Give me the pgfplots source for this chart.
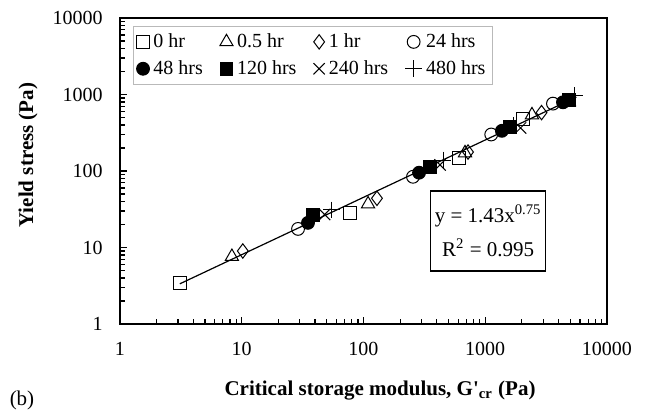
\documentclass[border=0pt]{standalone}
\usepackage{pgfplots}
\pgfplotsset{compat=1.18}
\usepackage{fontspec}
\setmainfont{Liberation Serif}

\begin{document}
\begin{tikzpicture}
\begin{axis}[
    at={(0,0)}, anchor=south west,
    scale only axis,
    width=243.5pt, height=153pt,
    xmode=log, ymode=log,
    xmin=1, xmax=10000, ymin=1, ymax=10000,
    xtick={1,10,100,1000,10000},
    xticklabels={1,10,100,1000,10000},
    ytick={1,10,100,1000,10000},
    yticklabels={1,10,100,1000,10000},
    xtick pos=bottom, ytick pos=left,
    tick align=inside,
    major tick length=3.5pt, minor tick length=2.5pt,
    tick style={black, line width=0.6pt},
    axis line style={line width=0.7pt},
    /pgf/number format/assume math mode=true,
    tick label style={font=\fontsize{10}{12}\selectfont, inner sep=0pt},
    xticklabel shift=9pt,
    yticklabel shift=8.5pt,
    every axis x label/.style={at={(axis description cs:0.534,-0.218)}, anchor=center},
    every axis y label/.style={at={(axis description cs:-0.189,0.552)}, anchor=center, rotate=90},
    label style={font=\fontsize{10.5}{12}\selectfont\bfseries},
    xlabel={Critical storage modulus, G\textquotesingle\textsubscript{cr} (Pa)},
    ylabel={Yield stress (Pa)},
    legend columns=4,
    legend cell align=left,
    legend style={at={(rel axis cs:0.027,0.974)}, anchor=north west,
        draw=gray!55, line width=0.5pt, font=\fontsize{10}{12}\selectfont,
        inner sep=1.5pt, row sep=1pt,
        /tikz/every even column/.append style={column sep=6.5pt}},
    every axis plot/.append style={black, line width=0.5pt},
]
\addplot[line width=0.6pt, mark=none, forget plot] coordinates {(3.1,3.35) (5600,925)};

\addplot[only marks, mark=square, mark size=3.2pt] coordinates {(3.1,3.45) (77,28) (609,148) (2030,480)};
\addlegendentry{0 hr}
\addplot[only marks, mark=triangle, mark size=3.8pt] coordinates {(8.3,7.6) (109,37) (682,172) (2420,540)};
\addlegendentry{0.5 hr}
\addplot[only marks, mark=diamond, mark size=3.6pt] coordinates {(10.2,9.0) (129,44) (722,177) (2900,580)};
\addlegendentry{1 hr}
\addplot[only marks, mark=o, mark size=3.2pt] coordinates {(29,17.5) (255,84) (1120,300) (3600,760)};
\addlegendentry{24 hrs}
\addplot[only marks, mark=*, mark size=3.2pt, fill=black] coordinates {(35,21) (286,95) (1370,335) (4350,790)};
\addlegendentry{48 hrs}
\addplot[only marks, mark=square*, mark size=3.2pt, fill=black] coordinates {(38.5,26.5) (352,113) (1600,375) (4900,850)};
\addlegendentry{120 hrs}
\addplot[only marks, mark=x, mark size=4pt] coordinates {(48,27) (425,120) (1950,365) (5000,830)};
\addlegendentry{240 hrs}
\addplot[only marks, mark=+, mark size=4.2pt] coordinates {(55,31) (450,139) (1700,395) (5400,960)};
\addlegendentry{480 hrs}

\node[draw=black, line width=0.6pt, align=center, minimum width=56pt, minimum height=40pt,
      inner sep=2pt, font=\fontsize{10.5}{17}\selectfont]
      at (rel axis cs:0.756,0.304) {y = 1.43x\textsuperscript{0.75}\\R\textsuperscript{2} = 0.995};
\end{axis}
\node[font=\fontsize{10.5}{12}\selectfont] at (-49pt,-38pt) {(b)};
\pgfresetboundingbox
\path (-60pt,-46pt) rectangle (266pt,162pt);
\end{tikzpicture}
\end{document}
